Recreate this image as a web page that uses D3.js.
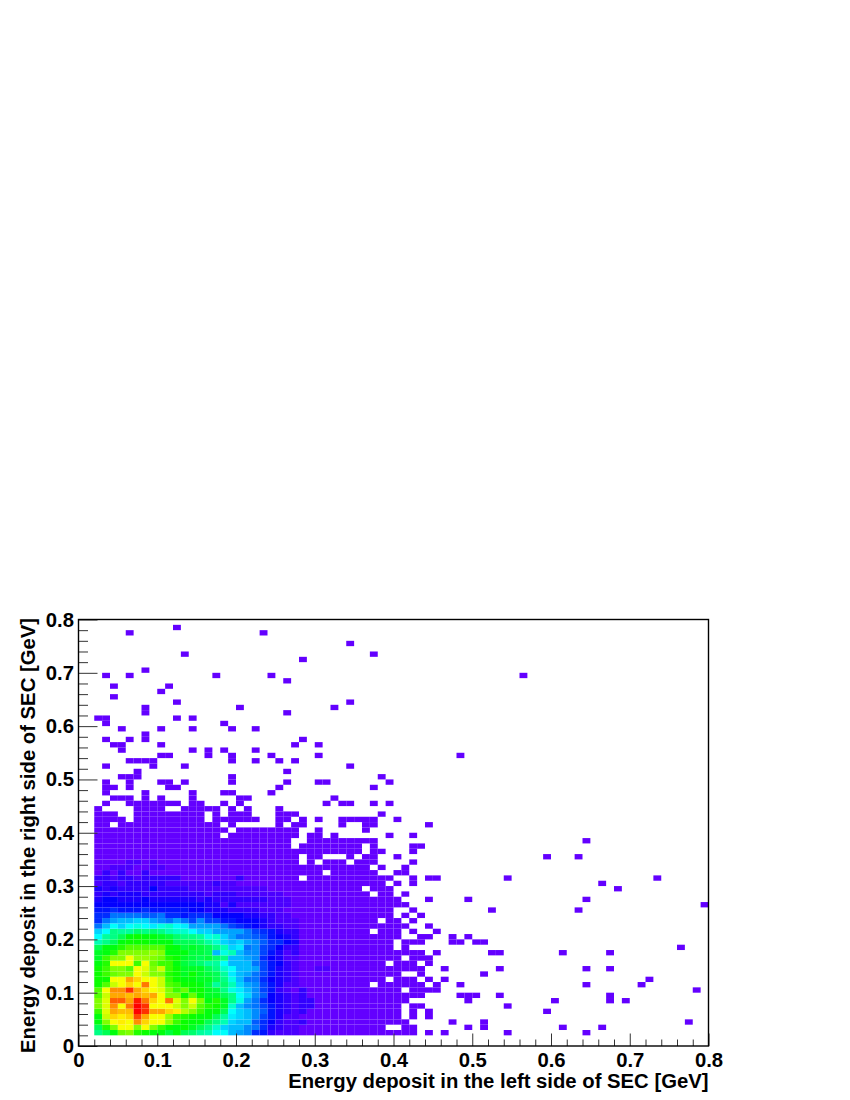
<!DOCTYPE html>
<html>
<head>
<meta charset="utf-8">
<style>
  html, body { margin: 0; background: #fff; }
  text { font-family: "Liberation Sans", Arial, sans-serif; font-weight: bold; fill: #000; }
</style>
<script src="https://d3js.org/d3.v7.min.js"></script>
</head>
<body>
<svg id="chart" width="850" height="1100"></svg>
<script>
'use strict';
var xTitle = 'Energy deposit in the left side of SEC [GeV]';
var yTitle = 'Energy deposit in the right side of SEC [GeV]';
var majorTicks = [0, 0.1, 0.2, 0.3, 0.4, 0.5, 0.6, 0.7, 0.8];
var minorTicks = [0.02, 0.04, 0.06, 0.08, 0.12, 0.14, 0.16, 0.18, 0.22, 0.24, 0.26, 0.28, 0.32, 0.34, 0.36, 0.38,
  0.42, 0.44, 0.46, 0.48, 0.52, 0.54, 0.56, 0.58, 0.62, 0.64, 0.66, 0.68, 0.72, 0.74, 0.76, 0.78];

// occupied x bins per y bin, as [from, to] runs. first entry is y bin 2
var firstRow = 2;
var rowRuns = [
  [[2,42],[44,44],[46,46],[54,54],[64,64]],
  [[2,38],[41,42],[49,49],[51,51],[61,61],[66,66]],
  [[2,41],[47,47],[51,51],[77,77]],
  [[2,40],[42,42],[44,44]],
  [[2,40],[42,42],[44,44],[59,59]],
  [[2,40],[42,43],[54,54]],
  [[2,41],[49,49],[60,60],[67,67],[69,69]],
  [[2,43],[48,50],[53,53],[67,67]],
  [[2,40],[42,45],[78,78]],
  [[2,36],[38,43],[45,45],[48,48],[64,64],[71,71]],
  [[2,38],[40,42],[44,44],[46,46],[72,72]],
  [[2,40],[43,43],[51,51]],
  [[2,43],[46,46],[53,53],[64,64],[67,67]],
  [[2,38],[40,42],[44,44]],
  [[2,40],[42,44]],
  [[2,43],[45,45],[52,53],[61,61],[67,67]],
  [[2,39],[41,41],[76,76]],
  [[2,39],[41,43],[47,48],[50,51]],
  [[2,40],[43,44],[47,47],[49,49]],
  [[2,36],[38,40],[42,42],[45,45]],
  [[2,41],[44,44]],
  [[2,37],[39,40],[42,42]],
  [[2,39],[41,41],[43,43]],
  [[2,39],[42,42],[52,52],[63,63]],
  [[2,41],[79,79]],
  [[2,40],[44,44],[49,49],[64,64]],
  [[2,36],[38,39],[41,41]],
  [[2,35],[37,39],[68,68]],
  [[2,38],[40,40],[42,42],[66,66]],
  [[2,27],[29,39],[42,42],[44,45],[54,54],[73,73]],
  [[2,30],[32,37],[40,41]],
  [[2,36],[38,38],[41,41]],
  [[2,27],[29,29],[31,33],[35,37],[42,42]],
  [[2,27],[29,30],[34,34],[36,37],[40,40],[59,59],[63,63]],
  [[2,35],[37,38],[42,42]],
  [[2,26],[28,35],[37,37],[42,43]],
  [[2,26],[29,37],[64,64]],
  [[2,17],[19,27],[29,30],[32,32],[39,39],[42,42]],
  [[2,18],[20,27],[30,30],[36,36]],
  [[2,3],[5,17],[19,19],[25,25],[27,28],[33,33],[36,37],[44,44]],
  [[2,5],[7,15],[17,22],[25,26],[28,28],[30,30],[33,37],[40,40]],
  [[2,4],[7,15],[17,17],[19,21],[25,27],[38,38]],
  [[2,2],[7,10],[13,17],[19,19],[21,21],[25,25]],
  [[3,3],[6,12],[14,15],[18,18],[20,20],[31,31],[33,34],[37,37],[39,39]],
  [[4,6],[8,8],[10,10],[14,14],[20,21],[32,32]],
  [[3,3],[8,8],[14,14],[18,19],[24,24]],
  [[3,4],[6,6],[11,12],[25,25],[37,37]],
  [[3,3],[6,6],[10,11],[13,13],[19,19],[26,26],[30,31],[39,39]],
  [[5,7],[19,19],[38,38]],
  [[7,7],[26,26]],
  [[3,3],[9,9],[13,13],[34,34]],
  [[6,9],[19,19],[22,22],[25,25],[27,27]],
  [[10,11],[16,16],[19,19],[24,24],[30,30],[48,48]],
  [[5,5],[14,14],[16,16],[18,18],[22,22]],
  [[4,5],[10,10],[27,27],[30,30]],
  [[3,3],[6,6],[8,8],[28,28]],
  [[8,8]],
  [[5,5],[10,10],[14,14],[19,19],[22,22]],
  [[3,3],[18,18]],
  [[2,3],[12,12],[14,14]],
  [[8,8],[26,26]],
  [[8,8],[20,20],[32,32]],
  [[12,12],[34,34]],
  [[4,4]],
  [[10,10]],
  [[4,4],[11,11]],
  [[26,26]],
  [[3,3],[6,6],[17,17],[24,24],[56,56]],
  [[8,8]],
  [],
  [[28,28]],
  [[13,13],[37,37]],
  [],
  [[34,34]],
  [],
  [[6,6],[23,23]],
  [[12,12]]
];

// palette level of x bins 2..27, first entry is y bin 2
var coreLevels = [
  [22,24,27,32,33,29,28,27,27,25,27,24,23,21,20,17,17,14,13,12,8,7,4,3,3,3],
  [24,29,33,38,38,33,38,33,30,28,27,28,26,24,22,19,15,14,14,12,11,8,5,4,3,3],
  [27,33,38,39,38,43,40,38,38,34,30,28,27,27,24,22,20,15,14,14,10,8,6,4,3,3],
  [27,36,40,39,40,46,42,38,38,34,30,29,28,27,27,24,21,16,15,14,12,9,7,5,3,3],
  [30,37,42,41,41,49,47,42,42,40,39,35,33,30,27,27,24,17,15,14,12,10,7,5,4,3],
  [33,37,43,38,44,49,47,38,38,38,36,33,36,31,29,28,26,19,14,12,11,9,7,5,4,3],
  [33,37,45,45,42,48,44,40,38,44,37,33,38,33,27,29,26,22,18,13,11,8,6,5,4,3],
  [31,36,42,42,41,42,41,42,38,33,33,28,32,28,26,26,24,22,17,15,12,10,6,5,4,3],
  [31,38,43,43,47,42,40,38,37,33,30,32,28,28,26,25,22,18,16,14,12,9,7,4,3,2],
  [28,31,36,38,40,38,44,38,36,31,30,28,28,27,25,21,23,20,15,13,12,9,7,5,3,3],
  [28,28,38,38,42,40,38,38,36,30,28,27,27,26,26,24,22,18,14,11,11,8,6,5,4,3],
  [28,30,32,33,33,38,36,33,33,29,28,26,28,26,25,24,21,16,14,13,11,9,7,5,4,3],
  [28,30,33,33,31,38,37,33,36,30,28,26,26,26,24,22,19,17,14,14,13,9,7,5,4,3],
  [27,29,38,38,38,30,38,32,30,30,27,25,24,23,21,21,17,14,14,14,11,9,7,6,4,3],
  [26,30,33,33,38,34,34,33,32,29,28,26,25,24,25,23,22,14,14,13,12,8,6,5,3,3],
  [26,27,29,33,33,33,33,34,33,27,27,27,25,25,24,14,18,20,14,12,12,9,7,5,3,4],
  [24,27,27,29,31,31,31,31,31,28,27,25,26,25,24,22,20,15,16,11,12,9,8,6,4,4],
  [20,22,24,27,28,28,28,27,27,27,24,24,24,23,21,19,15,14,15,13,12,10,8,8,6,5],
  [17,21,22,24,27,28,27,27,26,25,23,22,22,21,18,19,15,13,11,11,10,9,7,6,5,4],
  [15,17,22,21,21,23,22,23,22,20,19,19,17,15,15,13,13,13,13,11,9,8,7,5,4,4],
  [11,14,17,15,17,18,17,16,18,19,17,16,13,13,13,13,11,9,8,7,6,5,4,4,3,3],
  [8,11,13,14,14,15,15,13,12,11,13,11,9,12,9,9,7,7,6,6,6,5,4,3,3,3],
  [8,8,11,11,11,11,10,10,11,8,8,7,8,8,8,6,6,6,6,5,5,4,4,3,3,2],
  [7,7,8,7,7,7,8,7,7,7,7,7,6,6,5,5,5,4,4,4,4,3,3,3,2,2],
  [6,6,6,6,6,6,6,6,6,6,6,6,6,6,5,5,3,5,3,3,3,3,3,3,3,2],
  [5,6,6,5,5,5,6,5,5,5,5,5,5,4,5,4,4,4,4,4,4,4,3,3,3,2],
  [4,5,4,5,5,5,4,4,4,4,4,4,4,4,3,4,4,4,3,3,3,3,3,3,2,2],
  [5,4,5,4,4,4,4,6,4,4,4,4,3,3,3,3,3,3,3,3,3,3,2,2,2,2],
  [3,4,4,3,4,4,4,4,4,3,3,3,3,3,3,4,3,3,2,2,2,2,2,2,2,2],
  [4,4,3,4,4,3,4,4,4,4,4,2,2,2,2,2,2,2,4,2,2,2,2,2,2,2],
  [2,4,2,4,2,2,4,2,2,2,2,2,2,2,2,2,2,2,2,2,2,2,2,2,2,2],
  [2,2,3,3,3,2,2,3,3,2,2,2,2,2,2,2,2,2,2,2,2,2,2,2,2,2],
  [2,2,2,2,3,3,2,3,2,2,2,2,2,2,2,2,2,2,2,2,2,2,2,2,2,2]
];
// the few bins right of the core that are not the lowest level: x bin, y bin, level
var edgeCells = [[28,4,4],[28,6,4],[28,7,4],[29,7,4],[28,8,4],[29,8,4],[28,9,4],[28,10,4],[30,14,3],[31,14,3]];
var lowestLevel = 2;
var binSize = 0.01;

var svg = d3.select('#chart');
var x = d3.scaleLinear().domain([0, 0.8]).range([78.5, 708.5]);
var y = d3.scaleLinear().domain([0, 0.8]).range([1046, 619.5]);
var hue = d3.scaleLinear().domain([0, 49]).range([274.4, 0]);

function levelOf(col, row) {
  var edge = edgeCells.find(function(c) { return c[0] === col && c[1] === row; });
  if (edge) return edge[2];
  var coreRow = coreLevels[row - firstRow];
  if (coreRow && col - 2 < coreRow.length) return coreRow[col - 2];
  return lowestLevel;
}

var cells = [];
rowRuns.forEach(function(runs, i) {
  var row = i + firstRow;
  runs.forEach(function(run) {
    d3.range(run[0], run[1] + 1).forEach(function(col) {
      cells.push({col: col, row: row, level: levelOf(col, row)});
    });
  });
});

svg.append('g').selectAll('rect')
  .data(cells)
  .enter().append('rect')
  .attr('x', function(d) { return x(d.col * binSize); })
  .attr('y', function(d) { return y((d.row + 1) * binSize); })
  .attr('width', x(binSize) - x(0))
  .attr('height', y(0) - y(binSize))
  .attr('fill', function(d) { return d3.hsl(hue(d.level), 1, 0.5).formatHex(); });

function styleTicks(g) {
  g.select('.domain').remove();
  g.selectAll('line').attr('stroke', '#333').attr('stroke-width', 1);
}

var fmt = d3.format('~g');

svg.append('g').attr('transform', 'translate(0,' + y(0) + ')')
  .call(d3.axisBottom(x).tickValues(minorTicks).tickSize(-6.5).tickFormat(''))
  .call(styleTicks);
svg.append('g').attr('transform', 'translate(0,' + y(0) + ')')
  .call(d3.axisBottom(x).tickValues(majorTicks).tickSize(-12.5).tickPadding(6.5).tickFormat(fmt))
  .call(styleTicks)
  .selectAll('text').style('font-size', '20.3px').style('font-family', '"Liberation Sans"').attr('dy', '0.71em');

svg.append('g').attr('transform', 'translate(' + x(0) + ',0)')
  .call(d3.axisLeft(y).tickValues(minorTicks).tickSize(-9.5).tickFormat(''))
  .call(styleTicks);
svg.append('g').attr('transform', 'translate(' + x(0) + ',0)')
  .call(d3.axisLeft(y).tickValues(majorTicks).tickSize(-19).tickPadding(4.5).tickFormat(fmt))
  .call(styleTicks)
  .selectAll('text').style('font-size', '20.3px').style('font-family', '"Liberation Sans"');

svg.append('rect')
  .attr('x', x(0)).attr('y', y(0.8))
  .attr('width', x(0.8) - x(0)).attr('height', y(0) - y(0.8))
  .attr('fill', 'none').attr('stroke', '#000').attr('stroke-width', 1.4);

svg.append('text')
  .attr('x', 708.5).attr('y', 1088)
  .attr('text-anchor', 'end')
  .style('font-size', '20.3px')
  .text(xTitle);

svg.append('text')
  .attr('transform', 'translate(35,618) rotate(-90)')
  .attr('text-anchor', 'end')
  .style('font-size', '20.3px')
  .text(yTitle);
</script>
</body>
</html>
